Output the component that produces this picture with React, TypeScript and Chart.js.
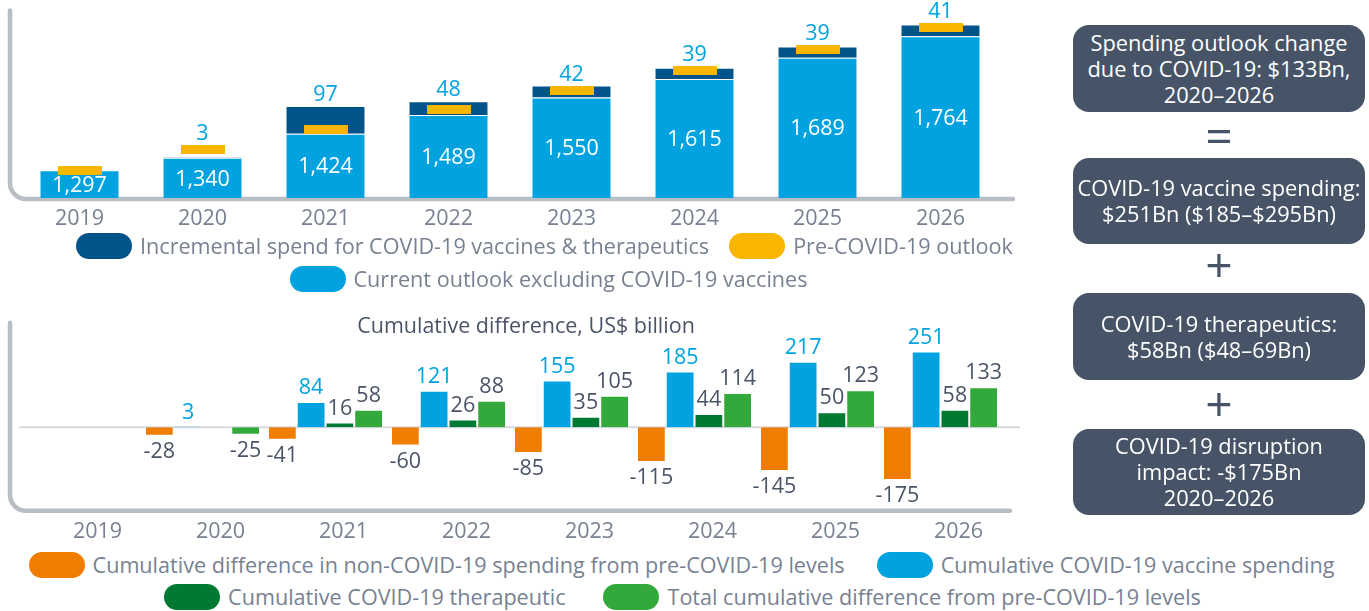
import React, { useEffect, useRef } from "react";
import { Chart, registerables } from "chart.js";

Chart.register(...registerables);

const FONT = '"Open Sans", "Noto Sans", sans-serif';
Chart.defaults.font.family = FONT;

// ---- Data: top chart ----
const YEARS = ["2019", "2020", "2021", "2022", "2023", "2024", "2025", "2026"];
const CURRENT_OUTLOOK = [1297, 1340, 1424, 1489, 1550, 1615, 1689, 1764];
const INCREMENTAL = [null, 3, 97, 48, 42, 39, 39, 41];
const PRE_COVID = [1297, 1368, 1437, 1508, 1575, 1645, 1719, 1794];
const TOP_MIN = 1200;
const TOP_MAX = 1860;

// ---- Data: bottom chart ----
const NON_COVID_DIFF = [null, -28, -41, -60, -85, -115, -145, -175];
const VACCINE_CUM = [null, 3, 84, 121, 155, 185, 217, 251];
const THERAPEUTIC_CUM = [null, null, 16, 26, 35, 44, 50, 58];
const TOTAL_DIFF = [null, -25, 58, 88, 105, 114, 123, 133];
const BOTTOM_MIN = -250;
const BOTTOM_MAX = 290;

// ---- Labels ----
const L_INCREMENTAL = "Incremental spend for COVID-19 vaccines & therapeutics";
const L_PRE = "Pre-COVID-19 outlook";
const L_CURRENT = "Current outlook excluding COVID-19 vaccines";
const L_NONCOVID = "Cumulative difference in non-COVID-19 spending from pre-COVID-19 levels";
const L_VACCINE = "Cumulative COVID-19 vaccine spending";
const L_THERA = "Cumulative COVID-19 therapeutic";
const L_TOTAL = "Total cumulative difference from pre-COVID-19 levels";
const BOTTOM_TITLE = "Cumulative difference, US$ billion";

// ---- Colours ----
const C_LIGHT = "#00a3e0";
const C_DARK = "#00548a";
const C_YELLOW = "#f9b600";
const C_ORANGE = "#ee7d00";
const C_DKGREEN = "#007a33";
const C_GREEN = "#33a83b";
const C_TICK = "#788192";
const C_LABEL = "#4a5467";
const C_FRAME = "#b9bdc4";
const C_ZERO = "#d6d9de";
const C_BOX = "#475467";

const FS_CHART = 21.5;
const FS_TEXT = 21.6;

function drawFrame(ctx: CanvasRenderingContext2D, x: number, top: number, bottom: number, right: number) {
  const r = 16;
  ctx.save();
  ctx.strokeStyle = C_FRAME;
  ctx.lineWidth = 4.5;
  ctx.lineCap = "round";
  ctx.beginPath();
  ctx.moveTo(x, top);
  ctx.lineTo(x, bottom - r);
  ctx.arcTo(x, bottom, x + r, bottom, r);
  ctx.lineTo(right, bottom);
  ctx.stroke();
  ctx.restore();
}

const topFrame = {
  id: "topFrame",
  beforeDatasetsDraw(chart: any) {
    const a = chart.chartArea;
    drawFrame(chart.ctx, a.left - 8, a.top + 2, a.bottom + 1, a.right + 11);
  },
};

const topLabels = {
  id: "topLabels",
  afterDatasetsDraw(chart: any) {
    const ctx = chart.ctx as CanvasRenderingContext2D;
    const pre = chart.getDatasetMeta(0);
    const light = chart.getDatasetMeta(1);
    const dark = chart.getDatasetMeta(2);
    ctx.save();
    ctx.font = `${FS_CHART}px ${FONT}`;
    ctx.textAlign = "center";
    ctx.textBaseline = "middle";
    CURRENT_OUTLOOK.forEach((v, i) => {
      const el: any = light.data[i];
      ctx.fillStyle = "#ffffff";
      ctx.fillText(v.toLocaleString("en-US"), el.x, (el.y + el.base) / 2 + 1.5);
      const inc = INCREMENTAL[i];
      if (inc != null && inc > 0) {
        const d: any = dark.data[i];
        const p: any = pre.data[i];
        const topY = Math.min(d.y, p.y - 4.5);
        ctx.fillStyle = C_LIGHT;
        ctx.fillText(String(inc), d.x, topY - 11);
      }
    });
    ctx.restore();
  },
};

const botFrame = {
  id: "botFrame",
  beforeDatasetsDraw(chart: any) {
    const a = chart.chartArea;
    const ctx = chart.ctx as CanvasRenderingContext2D;
    drawFrame(ctx, a.left - 8, a.top - 17, a.bottom + 8, a.right + 8);
    const y0 = chart.scales.y.getPixelForValue(0);
    ctx.save();
    ctx.strokeStyle = C_ZERO;
    ctx.lineWidth = 2;
    ctx.beginPath();
    ctx.moveTo(a.left + 1, y0);
    ctx.lineTo(a.right + 18, y0);
    ctx.stroke();
    ctx.restore();
  },
};

const botLabels = {
  id: "botLabels",
  afterDatasetsDraw(chart: any) {
    const ctx = chart.ctx as CanvasRenderingContext2D;
    ctx.save();
    ctx.font = `${FS_CHART}px ${FONT}`;
    ctx.textAlign = "center";
    ctx.textBaseline = "middle";
    chart.data.datasets.forEach((ds: any, di: number) => {
      const meta = chart.getDatasetMeta(di);
      (ds.data as (number | null)[]).forEach((v, i) => {
        if (v == null) return;
        const el: any = meta.data[i];
        ctx.fillStyle = di === 1 ? C_LIGHT : C_LABEL;
        ctx.fillText(String(v), el.x, v >= 0 ? el.y - 14 : el.y + 16);
      });
    });
    ctx.restore();
  },
};

type Item = { label: string; color: string };

function LegendRow(props: { items: Item[]; top: number; left: number; width: number; gap: number }) {
  const { items, top, left, width, gap } = props;
  return (
    <div
      style={{
        position: "absolute",
        top,
        left,
        width,
        height: 26,
        display: "flex",
        justifyContent: "center",
        alignItems: "center",
        gap,
      }}
    >
      {items.map((it) => (
        <div key={it.label} style={{ display: "flex", alignItems: "center" }}>
          <span
            style={{
              width: 56,
              height: 26,
              borderRadius: 13,
              background: it.color,
              marginRight: 8,
              flex: "none",
              display: "block",
            }}
          />
          <span style={{ fontSize: FS_TEXT, color: C_TICK, whiteSpace: "nowrap", lineHeight: "26px" }}>{it.label}</span>
        </div>
      ))}
    </div>
  );
}

function Box(props: { top: number; height: number; lines: string[] }) {
  return (
    <div
      style={{
        position: "absolute",
        left: 1073,
        top: props.top,
        width: 292,
        height: props.height,
        background: C_BOX,
        borderRadius: 16,
        color: "#ffffff",
        fontSize: 21.8,
        lineHeight: "26px",
        display: "flex",
        flexDirection: "column",
        alignItems: "center",
        justifyContent: "center",
        textAlign: "center",
        whiteSpace: "nowrap",
      }}
    >
      {props.lines.map((l) => (
        <div key={l}>{l}</div>
      ))}
    </div>
  );
}

function Sym(props: { cy: number; ch: string }) {
  return (
    <div
      style={{
        position: "absolute",
        left: 1073,
        width: 292,
        top: props.cy - 31,
        height: 60,
        lineHeight: "60px",
        fontSize: 48,
        color: C_BOX,
        textAlign: "center",
      }}
    >
      {props.ch}
    </div>
  );
}

export default function App() {
  const topRef = useRef<HTMLCanvasElement>(null);
  const botRef = useRef<HTMLCanvasElement>(null);

  useEffect(() => {
    const marker = document.createElement("canvas");
    marker.width = 44;
    marker.height = 9;
    const mctx = marker.getContext("2d")!;
    mctx.fillStyle = C_YELLOW;
    mctx.fillRect(0, 0, 44, 9);

    const top = new Chart(topRef.current!, {
      type: "bar",
      data: {
        labels: YEARS,
        datasets: [
          {
            type: "line",
            label: L_PRE,
            data: PRE_COVID,
            showLine: false,
            pointStyle: marker as any,
            pointRadius: 5,
            pointHoverRadius: 5,
            borderColor: C_YELLOW,
            backgroundColor: C_YELLOW,
            order: 0,
          } as any,
          {
            label: L_CURRENT,
            data: CURRENT_OUTLOOK,
            backgroundColor: C_LIGHT,
            base: TOP_MIN,
            order: 1,
            borderWidth: 1,
            borderColor: "rgba(255,255,255,0.35)",
          } as any,
          {
            label: L_INCREMENTAL,
            data: INCREMENTAL,
            backgroundColor: C_DARK,
            order: 1,
            borderWidth: 1,
            borderColor: "rgba(255,255,255,0.25)",
          } as any,
        ],
      },
      options: {
        responsive: false,
        animation: false,
        devicePixelRatio: 1,
        layout: { padding: { left: 18, right: 38, top: 8.6, bottom: 0 } },
        datasets: { bar: { barPercentage: 0.65, categoryPercentage: 1 } },
        plugins: {
          legend: { display: false },
          tooltip: { enabled: false },
          title: { display: false },
        },
        scales: {
          x: {
            stacked: true,
            grid: { display: false, drawTicks: false },
            border: { display: false },
            ticks: { color: C_TICK, font: { family: FONT, size: FS_CHART }, padding: 8 },
            afterFit: (s: any) => {
              s.height = 34;
            },
          },
          y: { display: false, stacked: true, min: TOP_MIN, max: TOP_MAX },
        },
      } as any,
      plugins: [topFrame, topLabels],
    });

    const bot = new Chart(botRef.current!, {
      type: "bar",
      data: {
        labels: YEARS,
        datasets: [
          { label: L_NONCOVID, data: NON_COVID_DIFF, backgroundColor: C_ORANGE },
          { label: L_VACCINE, data: VACCINE_CUM, backgroundColor: C_LIGHT },
          { label: L_THERA, data: THERAPEUTIC_CUM, backgroundColor: C_DKGREEN },
          { label: L_TOTAL, data: TOTAL_DIFF, backgroundColor: C_GREEN },
        ] as any,
      },
      options: {
        responsive: false,
        animation: false,
        devicePixelRatio: 1,
        layout: { padding: { left: 18, right: 0, top: 0, bottom: 0 } },
        datasets: {
          bar: {
            categoryPercentage: 0.935,
            barPercentage: 1,
            borderWidth: 1,
            borderColor: "rgba(255,255,255,0.3)",
          },
        },
        plugins: {
          legend: { display: false },
          tooltip: { enabled: false },
          title: {
            display: true,
            text: BOTTOM_TITLE,
            color: C_LABEL,
            font: { family: FONT, size: FS_CHART, weight: "normal" },
            padding: { top: 14, bottom: 0 },
          },
        },
        scales: {
          x: {
            grid: { display: false, drawTicks: false },
            border: { display: false },
            ticks: { color: C_TICK, font: { family: FONT, size: FS_CHART }, padding: 16, labelOffset: 18 },
            afterFit: (s: any) => {
              s.height = 42.25;
            },
          },
          y: {
            position: "right",
            min: BOTTOM_MIN,
            max: BOTTOM_MAX,
            grid: { display: false, drawTicks: false },
            border: { display: false },
            ticks: { display: false },
            afterFit: (s: any) => {
              s.width = 32;
            },
          },
        },
      } as any,
      plugins: [botFrame, botLabels],
    });

    return () => {
      top.destroy();
      bot.destroy();
    };
  }, []);

  return (
    <div
      style={{
        position: "absolute",
        left: 0,
        top: 0,
        width: 1369,
        height: 611,
        overflow: "hidden",
        fontFamily: FONT,
        background: "#ffffff",
      }}
    >
      <canvas ref={topRef} width={1040} height={232} style={{ position: "absolute", left: 0, top: 0, display: "block" }} />
      <LegendRow
        top={233}
        left={0}
        width={1089}
        gap={20}
        items={[
          { label: L_INCREMENTAL, color: C_DARK },
          { label: L_PRE, color: C_YELLOW },
        ]}
      />
      <LegendRow top={266} left={0} width={1097} gap={20} items={[{ label: L_CURRENT, color: C_LIGHT }]} />
      <canvas ref={botRef} width={1034} height={245} style={{ position: "absolute", left: 0, top: 300, display: "block" }} />
      <LegendRow
        top={552}
        left={0}
        width={1363}
        gap={32}
        items={[
          { label: L_NONCOVID, color: C_ORANGE },
          { label: L_VACCINE, color: C_LIGHT },
        ]}
      />
      <LegendRow
        top={584}
        left={0}
        width={1365}
        gap={38}
        items={[
          { label: L_THERA, color: C_DKGREEN },
          { label: L_TOTAL, color: C_GREEN },
        ]}
      />
      <Box top={25} height={87} lines={["Spending outlook change", "due to COVID-19: $133Bn,", "2020–2026"]} />
      <Sym cy={136} ch="=" />
      <Box top={158} height={86} lines={["COVID-19 vaccine spending:", "$251Bn ($185–$295Bn)"]} />
      <Sym cy={265} ch="+" />
      <Box top={293} height={87} lines={["COVID-19 therapeutics:", "$58Bn ($48–69Bn)"]} />
      <Sym cy={404} ch="+" />
      <Box top={429} height={86} lines={["COVID-19 disruption", "impact: -$175Bn", "2020–2026"]} />
    </div>
  );
}
